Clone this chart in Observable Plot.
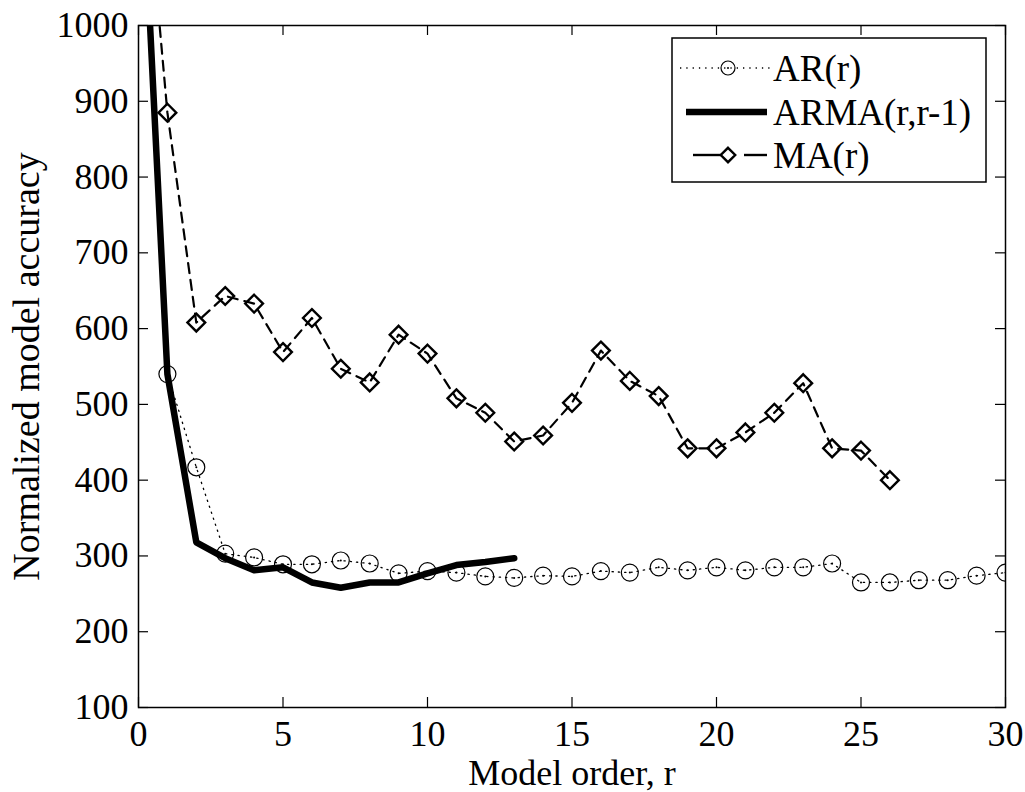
<!DOCTYPE html>
<html><head><meta charset="utf-8">
<script src="https://cdn.jsdelivr.net/npm/d3@7"></script>
<script src="https://cdn.jsdelivr.net/npm/@observablehq/plot@0.6"></script>
<style>
html,body{margin:0;padding:0;background:#fff;}
#chart{position:relative;width:1025px;height:792px;}
</style></head><body><div id="chart"></div>
<script>
// ---- data ----
const arOrders = d3.range(1, 31);
const arValues = [540, 417, 303, 298, 289, 289, 294, 290, 277, 280, 278, 273, 271, 274, 273, 280, 278, 285, 281, 285, 281, 285, 285, 290, 265, 265, 268, 268, 274, 278];
const armaOrders = d3.range(0, 14);
const armaValues = [1307, 540, 318, 297, 281, 285, 265, 258, 265, 265, 277, 288, 292, 297];
const maOrders = d3.range(0, 27);
const maValues = [1311, 885, 608, 643, 633, 569, 614, 547, 529, 592, 567, 508, 489, 451, 459, 502, 571, 531, 511, 442, 442, 463, 489, 528, 442, 439, 400];
const xTicks = [0, 5, 10, 15, 20, 25, 30];
const yTicks = [100, 200, 300, 400, 500, 600, 700, 800, 900, 1000];
const seriesNames = ["AR(r)", "ARMA(r,r-1)", "MA(r)"];
const xLabel = "Model order, r";
const yLabel = "Normalized model accuracy";

const ar = arOrders.map((r, i) => ({r, v: arValues[i]}));
const arma = armaOrders.map((r, i) => ({r, v: armaValues[i]}));
const ma = maOrders.map((r, i) => ({r, v: maValues[i]}));
const maShown = ma.filter(d => d.v <= 1000);

const FONT = "'Liberation Serif', 'Times New Roman', serif";
const W = 1025, H = 792, ML = 138, MR = 20, MT = 25, MB = 85;
const TICK = 10;
const innerW = W - ML - MR, innerH = H - MT - MB;

const svg = Plot.plot({
  width: W, height: H,
  marginLeft: ML, marginRight: MR, marginTop: MT, marginBottom: MB,
  style: {fontFamily: FONT, fontSize: "36px", color: "#000", background: "#fff"},
  x: {domain: [0, 30]},
  y: {domain: [100, 1000]},
  marks: [
    Plot.axisX(xTicks, {tickSize: 0, tickPadding: 13, label: null, fontSize: 36, tickFormat: d => String(d)}),
    Plot.axisY(yTicks, {tickSize: 0, tickPadding: 10, label: null, fontSize: 36, tickFormat: d => String(d)}),
    Plot.ruleX(xTicks, {x: d => d, insetTop: innerH - TICK, stroke: "#000", strokeWidth: 1.2}),
    Plot.ruleX(xTicks, {x: d => d, insetBottom: innerH - TICK, stroke: "#000", strokeWidth: 1.2}),
    Plot.ruleY(yTicks, {y: d => d, insetRight: innerW - TICK, stroke: "#000", strokeWidth: 1.2}),
    Plot.ruleY(yTicks, {y: d => d, insetLeft: innerW - TICK, stroke: "#000", strokeWidth: 1.2}),
    // AR(r): dotted line with open circles
    Plot.line(ar, {x: "r", y: "v", stroke: "#000", strokeWidth: 1.3, strokeDasharray: "1.3,5", clip: true}),
    Plot.dot(ar, {x: "r", y: "v", r: 8.5, stroke: "#000", strokeWidth: 1.2, fill: "none", clip: true}),
    Plot.dot(ar, {x: "r", y: "v", r: 1, fill: "#000", stroke: "none", clip: true}),
    // ARMA(r,r-1): thick solid line
    Plot.line(arma, {x: "r", y: "v", stroke: "#000", strokeWidth: 6.5, strokeLinejoin: "round", clip: true}),
    // MA(r): dashed line with diamonds
    Plot.line(ma, {x: "r", y: "v", stroke: "#000", strokeWidth: 2.2, strokeDasharray: "10,7", clip: true}),
    Plot.dot(maShown, {x: "r", y: "v", r: 8, symbol: "diamond2", stroke: "#000", strokeWidth: 2.4, fill: "none", clip: true}),
    Plot.frame({stroke: "#000", strokeWidth: 1.5}),
    Plot.text([xLabel], {frameAnchor: "bottom", dy: 66, lineAnchor: "middle", textAnchor: "middle", fontSize: 36, fill: "#000"}),
    Plot.text([yLabel], {frameAnchor: "left", dx: -112, rotate: -90, lineAnchor: "middle", textAnchor: "middle", fontSize: 38, fill: "#000"})
  ]
});

// ---- legend (inside the plot, top right) ----
const lg = d3.select(svg).append("g").attr("font-family", FONT).attr("font-size", 37);
lg.append("rect").attr("x", 672).attr("y", 38).attr("width", 314).attr("height", 144)
  .attr("fill", "#fff").attr("stroke", "#000").attr("stroke-width", 1.5);
const rowsY = [68, 112, 155];
// AR sample
lg.append("line").attr("x1", 680).attr("x2", 770).attr("y1", rowsY[0]).attr("y2", rowsY[0])
  .attr("stroke", "#000").attr("stroke-width", 1.3).attr("stroke-dasharray", "1.3,5");
lg.append("circle").attr("cx", 728).attr("cy", rowsY[0]).attr("r", 7).attr("fill", "none").attr("stroke", "#000").attr("stroke-width", 1.2);
lg.append("circle").attr("cx", 728).attr("cy", rowsY[0]).attr("r", 1).attr("fill", "#000");
// ARMA sample
lg.append("line").attr("x1", 686).attr("x2", 767).attr("y1", rowsY[1]).attr("y2", rowsY[1])
  .attr("stroke", "#000").attr("stroke-width", 6.5);
// MA sample
[[693, 722], [744, 767]].forEach(([a, b]) => {
  lg.append("line").attr("x1", a).attr("x2", b).attr("y1", rowsY[2]).attr("y2", rowsY[2])
    .attr("stroke", "#000").attr("stroke-width", 2.4);
});
lg.append("path").attr("d", d3.symbol(d3.symbolDiamond2, 6.5 * 6.5 * Math.PI)()).attr("transform", `translate(728,${rowsY[2]})`)
  .attr("fill", "none").attr("stroke", "#000").attr("stroke-width", 2.4);
seriesNames.forEach((name, i) => {
  lg.append("text").attr("x", 773).attr("y", rowsY[i]).attr("dy", "0.34em")
    .attr("text-anchor", "start").attr("fill", "#000").text(name);
});

document.getElementById("chart").appendChild(svg);
</script>
</body></html>
